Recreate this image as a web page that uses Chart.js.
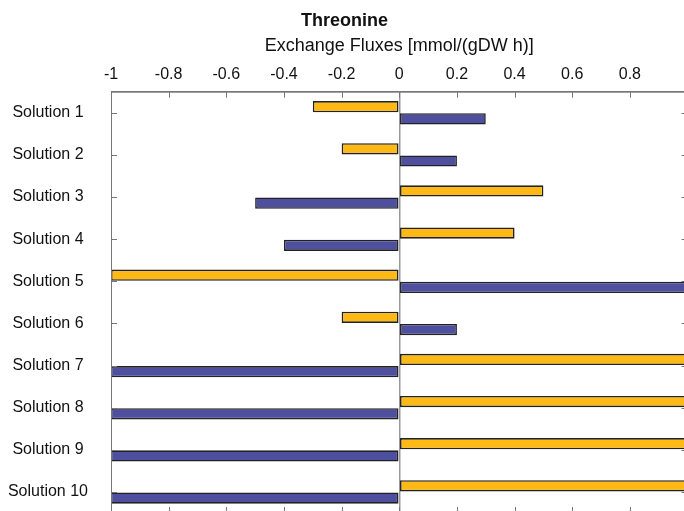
<!DOCTYPE html>
<html>
<head>
<meta charset="utf-8">
<script src="https://cdn.jsdelivr.net/npm/chart.js@4"></script>
<style>
  html, body { margin: 0; padding: 0; overflow: hidden; background: #fff; }
  canvas { display: block; }
</style>
</head>
<body>
<canvas id="fluxchart" width="700" height="514"></canvas>
<script>
const categories = ['Solution 1', 'Solution 2', 'Solution 3', 'Solution 4', 'Solution 5',
                    'Solution 6', 'Solution 7', 'Solution 8', 'Solution 9', 'Solution 10'];
const fluxOrange = [-0.3, -0.2, 0.5, 0.4, -1, -0.2, 1, 1, 1, 1];
const fluxPurple = [0.3, 0.2, -0.5, -0.4, 1, 0.2, -1, -1, -1, -1];
const xTicks = [-1, -0.8, -0.6, -0.4, -0.2, 0, 0.2, 0.4, 0.6, 0.8, 1];

const FONT = 'Liberation Sans, Arial, sans-serif';

// inward tick marks + box round the plot
const boxTicks = {
  id: 'boxTicks',
  afterDraw(chart) {
    const {ctx, chartArea: a, scales} = chart;
    ctx.save();
    ctx.strokeStyle = '#777';
    ctx.lineWidth = 1;
    ctx.strokeRect(a.left + 0.5, a.top + 0.5, a.right - a.left, a.bottom - a.top);
    ctx.beginPath();
    scales.x.ticks.forEach((t, i) => {
      const x = Math.round(scales.x.getPixelForTick(i)) + 0.5;
      ctx.moveTo(x, a.top); ctx.lineTo(x, a.top + 6);
      ctx.moveTo(x, a.bottom); ctx.lineTo(x, a.bottom - 6);
    });
    scales.y.ticks.forEach((t, i) => {
      const y = Math.round(scales.y.getPixelForTick(i)) + 0.5;
      ctx.moveTo(a.left, y); ctx.lineTo(a.left + 6, y);
      ctx.moveTo(a.right, y); ctx.lineTo(a.right - 6, y);
    });
    ctx.stroke();
    ctx.restore();
  }
};

new Chart(document.getElementById('fluxchart'), {
  type: 'bar',
  data: {
    labels: categories,
    datasets: [
      {
        label: 'flux 1',
        data: fluxOrange,
        backgroundColor: '#FFB914',
        borderColor: '#222',
        borderWidth: 1.6,
        borderSkipped: false,
        categoryPercentage: 0.58,
        barPercentage: 0.92
      },
      {
        label: 'flux 2',
        data: fluxPurple,
        backgroundColor: '#4F4FA0',
        borderColor: '#222',
        borderWidth: 1.6,
        borderSkipped: false,
        categoryPercentage: 0.58,
        barPercentage: 0.92
      }
    ]
  },
  options: {
    indexAxis: 'y',
    responsive: false,
    animation: false,
    layout: { padding: { left: 0, right: 11, top: 0, bottom: 1 } },
    plugins: {
      legend: { display: false },
      tooltip: { enabled: false },
      title: {
        display: true,
        text: 'Threonine',
        color: '#111',
        font: { family: FONT, size: 18, weight: 'bold' },
        padding: { top: 10, bottom: 0 }
      }
    },
    scales: {
      x: {
        position: 'top',
        min: -1,
        max: 1,
        afterBuildTicks: s => { s.ticks = xTicks.map(v => ({ value: v })); },
        afterFit: s => { s.height = 60.1; },
        grid: {
          drawTicks: false,
          color: c => (c.tick && c.tick.value === 0 ? '#999' : 'rgba(0,0,0,0)'),
          lineWidth: 1.5
        },
        border: { display: true, color: '#777' },
        ticks: {
          padding: 8,
          color: '#111',
          font: { family: FONT, size: 16 },
          callback: v => String(Math.round(v * 10) / 10)
        },
        title: {
          display: true,
          text: 'Exchange Fluxes [mmol/(gDW h)]',
          color: '#111',
          font: { family: FONT, size: 18 },
          padding: { top: 4, bottom: 0 }
        }
      },
      y: {
        afterFit: s => { s.width = 111; s.paddingTop = 0; s.paddingBottom = 0; },
        grid: { display: false, drawTicks: false },
        border: { display: true, color: '#777' },
        ticks: {
          crossAlign: 'center',
          padding: 23,
          color: '#111',
          font: { family: FONT, size: 16 }
        }
      }
    }
  },
  plugins: [boxTicks]
});
</script>
</body>
</html>
